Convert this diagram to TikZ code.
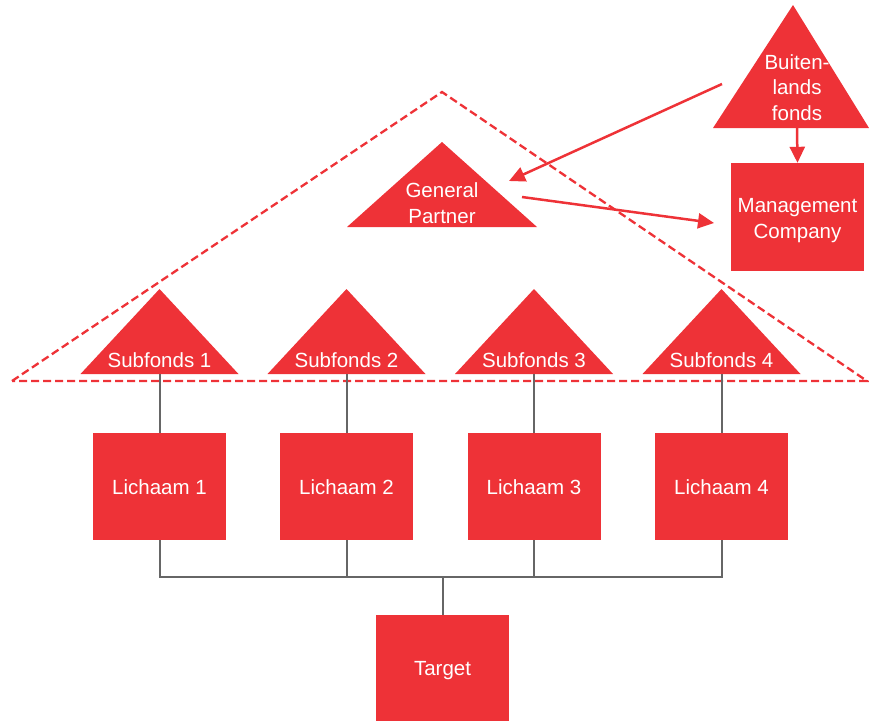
\documentclass[tikz,border=0pt]{standalone}
\usepackage{fontspec}
\setmainfont{Liberation Sans}
\usetikzlibrary{arrows.meta}
\definecolor{brandred}{HTML}{EE3237}
\definecolor{linkgray}{HTML}{666666}

\begin{document}
\begin{tikzpicture}[x=1pt,y=-1pt,
  redfill/.style={fill=brandred,draw=none},
  lbl/.style={text=white,font=\fontsize{20.5}{26}\selectfont,align=center,inner sep=0pt},
  box/.style={redfill,lbl,minimum width=133pt,minimum height=107pt},
  tree/.style={draw=linkgray,line width=2pt},
  flow/.style={draw=brandred,line width=2.5pt,-{Triangle[length=16pt,width=15pt]}},
  frame/.style={draw=brandred,line width=2.3pt,dash pattern=on 8pt off 4pt}
]
\useasboundingbox (0,0) rectangle (869,721);

% dashed boundary of the fund structure
\draw[frame] (12,381) -- (442,92) -- (867,381) -- cycle;

% foreign fund and management company
\fill[redfill] (713,128) -- (793,5) -- (869,128) -- cycle;
\node[lbl,font=\fontsize{20.5}{25.5}\selectfont] (bf) at (797,87.5) {Buiten-\\lands\\fonds};
\coordinate (bf-base) at (797,128);
\coordinate (bf-left) at (722,84);
\node[box,minimum height=108pt] (mc) at (797.5,217) {};
\node[lbl] (mc-text) at (797.5,221) {Management\\Company};

% general partner
\fill[redfill] (347,227) -- (442,142) -- (537,227) -- cycle;
\node[lbl,font=\fontsize{20.5}{26.5}\selectfont] (gp) at (442,203) {General\\Partner};
\coordinate (gp-in) at (509,181);
\coordinate (gp-out) at (522,197);
\coordinate (mc-in) at (714,223);

% arrows
\draw[flow] (bf-base) -- (mc.north);
\draw[flow] (bf-left) -- (gp-in);
\draw[flow] (gp-out) -- (mc-in);

% sub-funds and their holding companies
\foreach \i/\x in {1/159.5,2/346.5,3/534,4/721.5}{
  \fill[redfill] (\x-79,374) -- (\x,289) -- (\x+79,374) -- cycle;
  \node[lbl] (sf\i) at (\x,360) {Subfonds \i};
  \coordinate (sfb\i) at (\x,374);
  \node[box] (l\i) at (\x,486.5) {};
  \node[lbl] (l\i-text) at (\x,487.5) {Lichaam \i};
  \draw[tree] (sfb\i) -- (l\i.north);
}

% target
\node[box,minimum height=106pt] (t) at (442.5,668) {};
\node[lbl] (t-text) at (442.5,670.5) {Target};
\coordinate (bus) at (442.5,577);
\draw[tree] (l1.south) |- (l4.south |- bus) -- (l4.south);
\draw[tree] (l2.south) -- (l2.south |- bus);
\draw[tree] (l3.south) -- (l3.south |- bus);
\draw[tree] (bus) -- (t.north);
\end{tikzpicture}
\end{document}
